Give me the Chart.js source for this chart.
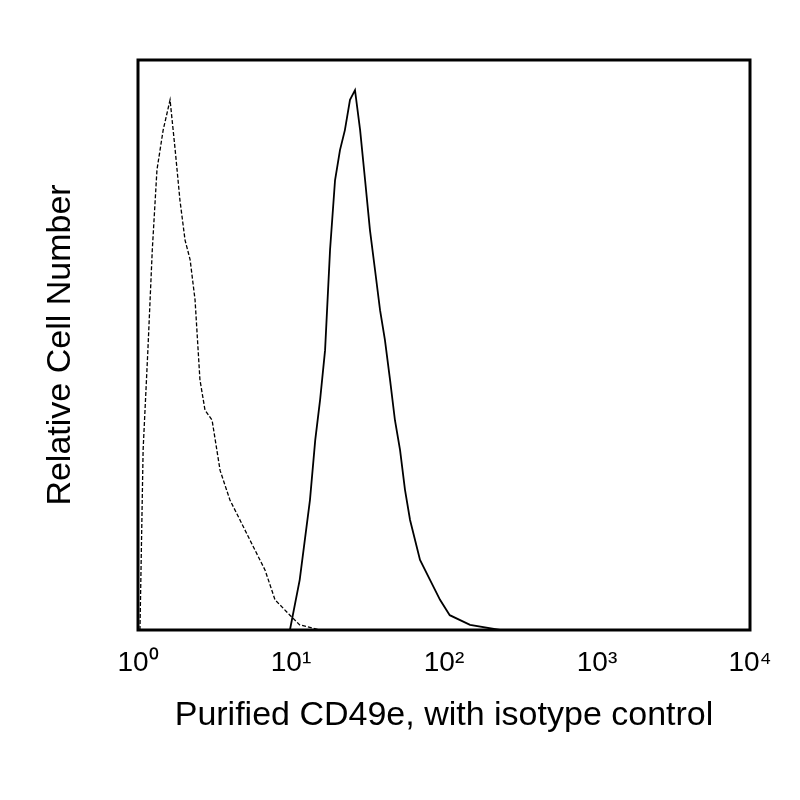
<!DOCTYPE html>
<html><head><meta charset="utf-8">
<script src="https://cdn.jsdelivr.net/npm/chart.js@4"></script>
<style>body{margin:0;background:#fff}#w{width:800px;height:800px}</style>
</head><body><div id="w"><canvas id="c" width="800" height="800"></canvas></div>
<script>
const isoX=[1.03,1.08,1.16,1.24,1.33,1.46,1.62,1.75,1.88,2.03,2.19,2.36,2.54,2.74,3.05,3.44,3.99,4.64,5.82,6.77,7.86,9.84,11.4,15.5];
const isoY=[0,31.6,49,66.7,80.7,87.7,93,84.2,75.4,68.4,65,57.9,43.9,38.6,36.8,28,22.8,19.3,14,10.5,5.3,2.6,0.9,0];
const cdX=[9.84,11.4,13.3,14.4,15.5,16.7,18.0,19.4,20.9,22.5,24.3,26.2,28.3,30.5,32.8,35.4,38.2,41.1,44.4,47.8,51.6,55.6,60.0,69.7,81,94.2,109,148,232];
const cdY=[0,8.8,22.8,33.3,40.4,49.1,66.7,78.9,84.2,87.7,93,94.7,87.7,78.9,70.2,63.2,56.1,50.9,43.9,36.8,31.6,24.6,19.3,12.3,8.8,5.3,2.6,0.9,0];
const tickVals=[1,10,100,1000,10000];
const tickLabels=['10⁰','10¹','10²','10³','10⁴'];
const pts=(xs,ys)=>xs.map((x,i)=>({x:x,y:ys[i]}));
const frame={id:'frame',afterDraw(ch){const a=ch.chartArea,c=ch.ctx;c.save();c.strokeStyle='#000';c.lineWidth=3;c.strokeRect(a.left,a.top,a.right-a.left,a.bottom-a.top);c.restore();}};
new Chart(document.getElementById('c'),{type:'scatter',
data:{datasets:[
{data:pts(isoX,isoY),showLine:true,borderColor:'#000',borderWidth:1.3,borderDash:[4,2],pointRadius:0},
{data:pts(cdX,cdY),showLine:true,borderColor:'#000',borderWidth:1.8,pointRadius:0}]},
options:{responsive:false,animation:false,layout:{padding:{left:36,right:50,top:60,bottom:60}},
plugins:{legend:{display:false},tooltip:{enabled:false}},
scales:{
x:{type:'logarithmic',min:1,max:10000,grid:{display:false},border:{display:false},
afterBuildTicks(s){s.ticks=tickVals.map(v=>({value:v}));},
afterFit(s){s.height=110;},
ticks:{color:'#000',font:{size:28,family:'Liberation Sans'},padding:8,maxRotation:0,autoSkip:false,callback:(v)=>tickLabels[tickVals.indexOf(v)]},
title:{display:true,text:'Purified CD49e, with isotype control',color:'#000',font:{size:34,family:'Liberation Sans'}}},
y:{min:0,max:100,grid:{display:false},border:{display:false},ticks:{display:false},
afterFit(s){s.width=102;},
title:{display:true,text:'Relative Cell Number',color:'#000',font:{size:34,family:'Liberation Sans'}}}}},
plugins:[frame]});
</script></body></html>
